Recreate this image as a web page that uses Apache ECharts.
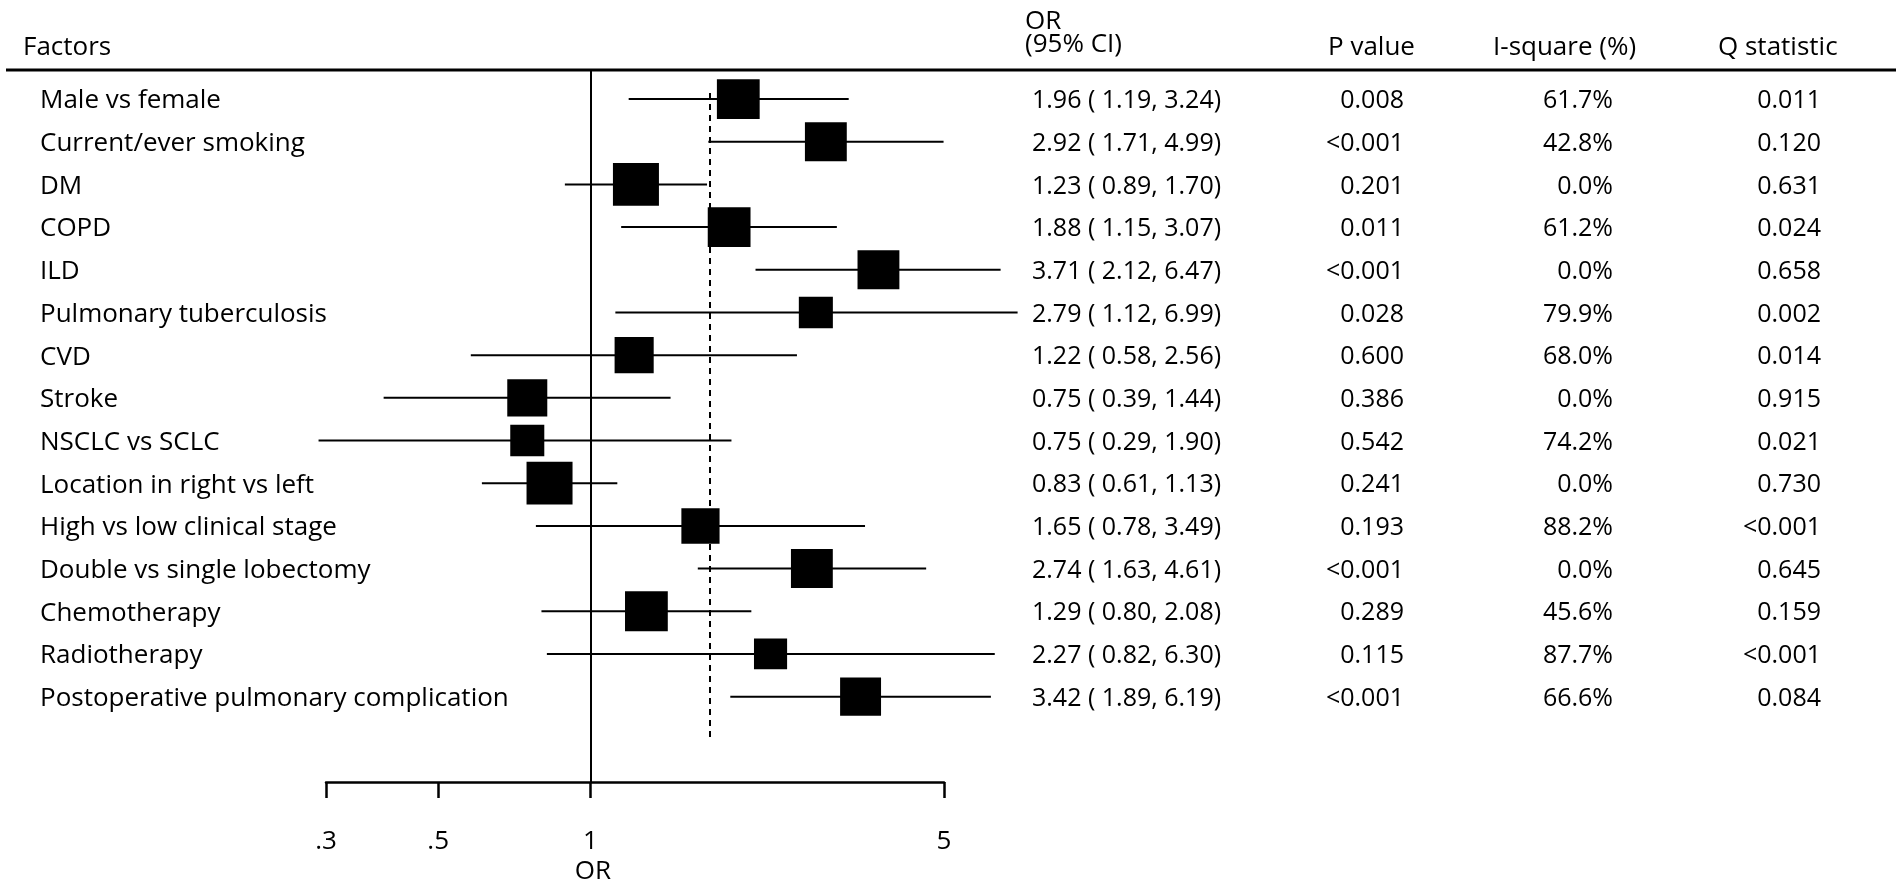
<!DOCTYPE html>
<html>
<head>
<meta charset="utf-8">
<title>Forest plot</title>
<script src="https://cdn.jsdelivr.net/npm/echarts@6/dist/echarts.min.js"></script>
<style>
  html, body { margin: 0; padding: 0; background: #fff; }
  #chart { width: 1902px; height: 891px; }
</style>
</head>
<body>
<div id="chart"></div>
<script>
const factors = [
  'Male vs female', 'Current/ever smoking', 'DM', 'COPD', 'ILD',
  'Pulmonary tuberculosis', 'CVD', 'Stroke', 'NSCLC vs SCLC',
  'Location in right vs left', 'High vs low clinical stage',
  'Double vs single lobectomy', 'Chemotherapy', 'Radiotherapy',
  'Postoperative pulmonary complication'
];
const orVals = [1.96, 2.92, 1.23, 1.88, 3.71, 2.79, 1.22, 0.75, 0.75, 0.83, 1.65, 2.74, 1.29, 2.27, 3.42];
const ciLow  = [1.19, 1.71, 0.89, 1.15, 2.12, 1.12, 0.58, 0.39, 0.29, 0.61, 0.78, 1.63, 0.80, 0.82, 1.89];
const ciHigh = [3.24, 4.99, 1.70, 3.07, 6.47, 6.99, 2.56, 1.44, 1.90, 1.13, 3.49, 4.61, 2.08, 6.30, 6.19];
const pValues = ['0.008', '<0.001', '0.201', '0.011', '<0.001', '0.028', '0.600', '0.386', '0.542', '0.241', '0.193', '<0.001', '0.289', '0.115', '<0.001'];
const iSquare = ['61.7%', '42.8%', '0.0%', '61.2%', '0.0%', '79.9%', '68.0%', '0.0%', '74.2%', '0.0%', '88.2%', '0.0%', '45.6%', '87.7%', '66.6%'];
const qStat = ['0.011', '0.120', '0.631', '0.024', '0.658', '0.002', '0.014', '0.915', '0.021', '0.730', '<0.001', '0.645', '0.159', '<0.001', '0.084'];
// relative study weight (box size)
const boxWeights = [9.3, 9.1, 10, 9.3, 9.1, 7.4, 8.5, 8.7, 7.4, 10, 8.3, 9.1, 9.3, 7.2, 8.9];
const pooledOR = 1.72;
const tickValues = [0.3, 0.5, 1, 5];
const tickLabels = ['.3', '.5', '1', '5'];

const FONT = '"Open Sans", sans-serif';

let myChart = echarts.init(document.getElementById('chart'));

function orText(i) {
  return orVals[i].toFixed(2) + ' ( ' + ciLow[i].toFixed(2) + ', ' + ciHigh[i].toFixed(2) + ')';
}

function renderRow(params, api) {
  const i = params.dataIndex;
  const row = api.value(0);
  const mid = api.coord([api.value(1), row]);
  const lo = api.coord([api.value(2), row]);
  const hi = api.coord([api.value(3), row]);
  const w = api.value(4) * 4.6;
  const h = w * 0.93;
  const y = mid[1];
  const txt = (s, x, align, size) => ({
    type: 'text',
    style: { text: s, x: x, y: y + 2, align: align, verticalAlign: 'middle', font: size + 'px ' + FONT, fill: '#000' }
  });
  return {
    type: 'group',
    children: [
      { type: 'line', shape: { x1: lo[0], y1: y, x2: hi[0], y2: y }, style: { stroke: '#000', lineWidth: 2 } },
      { type: 'rect', shape: { x: mid[0] - w / 2, y: y - h / 2, width: w, height: h }, style: { fill: '#000' } },
      txt(factors[i], 40, 'left', 26),
      txt(orText(i), 1032, 'left', 25),
      txt(pValues[i], 1404, 'right', 25),
      txt(iSquare[i], 1613, 'right', 25),
      txt(qStat[i], 1821, 'right', 25)
    ]
  };
}

const headText = (s, x, y, align) => ({
  type: 'text', x: x, y: y,
  style: { text: s, align: align || 'left', verticalAlign: 'middle', font: '26px ' + FONT, fill: '#000' }
});

const option = {
  animation: false,
  backgroundColor: '#fff',
  grid: { left: 326, right: 958, top: 70, bottom: 109 },
  xAxis: {
    type: 'log',
    logBase: 10,
    min: 0.3,
    max: 5,
    axisLine: { onZero: false, lineStyle: { color: '#000', width: 2.5 } },
    axisTick: { customValues: tickValues, length: 16, lineStyle: { color: '#000', width: 2.5 } },
    axisLabel: {
      customValues: tickValues,
      margin: 47,
      color: '#000',
      fontSize: 26,
      fontFamily: FONT,
      formatter: v => {
        const k = tickValues.findIndex(t => Math.abs(t - v) < 1e-6);
        return k >= 0 ? tickLabels[k] : '';
      }
    },
    splitLine: { show: false },
    minorTick: { show: false }
  },
  yAxis: {
    type: 'value',
    inverse: true,
    min: -0.68,
    max: 16,
    show: false
  },
  graphic: [
    { type: 'line', shape: { x1: 6, y1: 70, x2: 1896, y2: 70 }, style: { stroke: '#000', lineWidth: 3 } },
    headText('Factors', 23, 48),
    headText('OR', 1025, 22),
    headText('(95% CI)', 1025, 45),
    headText('P value', 1328, 48),
    headText('I-square (%)', 1493, 48),
    headText('Q statistic', 1718, 48),
    headText('OR', 593, 872, 'center')
  ],
  series: [{
    type: 'custom',
    clip: false,
    renderItem: renderRow,
    encode: { x: [1, 2, 3], y: 0 },
    data: factors.map((f, i) => [i, orVals[i], ciLow[i], ciHigh[i], boxWeights[i]]),
    z: 3,
    markLine: {
      silent: true,
      symbol: ['none', 'none'],
      label: { show: false },
      lineStyle: { color: '#000', width: 2, type: 'solid' },
      data: [
        { xAxis: 1 },
        [
          { coord: [pooledOR, -0.14], lineStyle: { type: [6, 5], width: 2, color: '#000' } },
          { coord: [pooledOR, 14.96] }
        ]
      ]
    }
  }]
};
myChart.setOption(option);
window.onresize = () => { myChart.resize(); };
</script>
</body>
</html>
